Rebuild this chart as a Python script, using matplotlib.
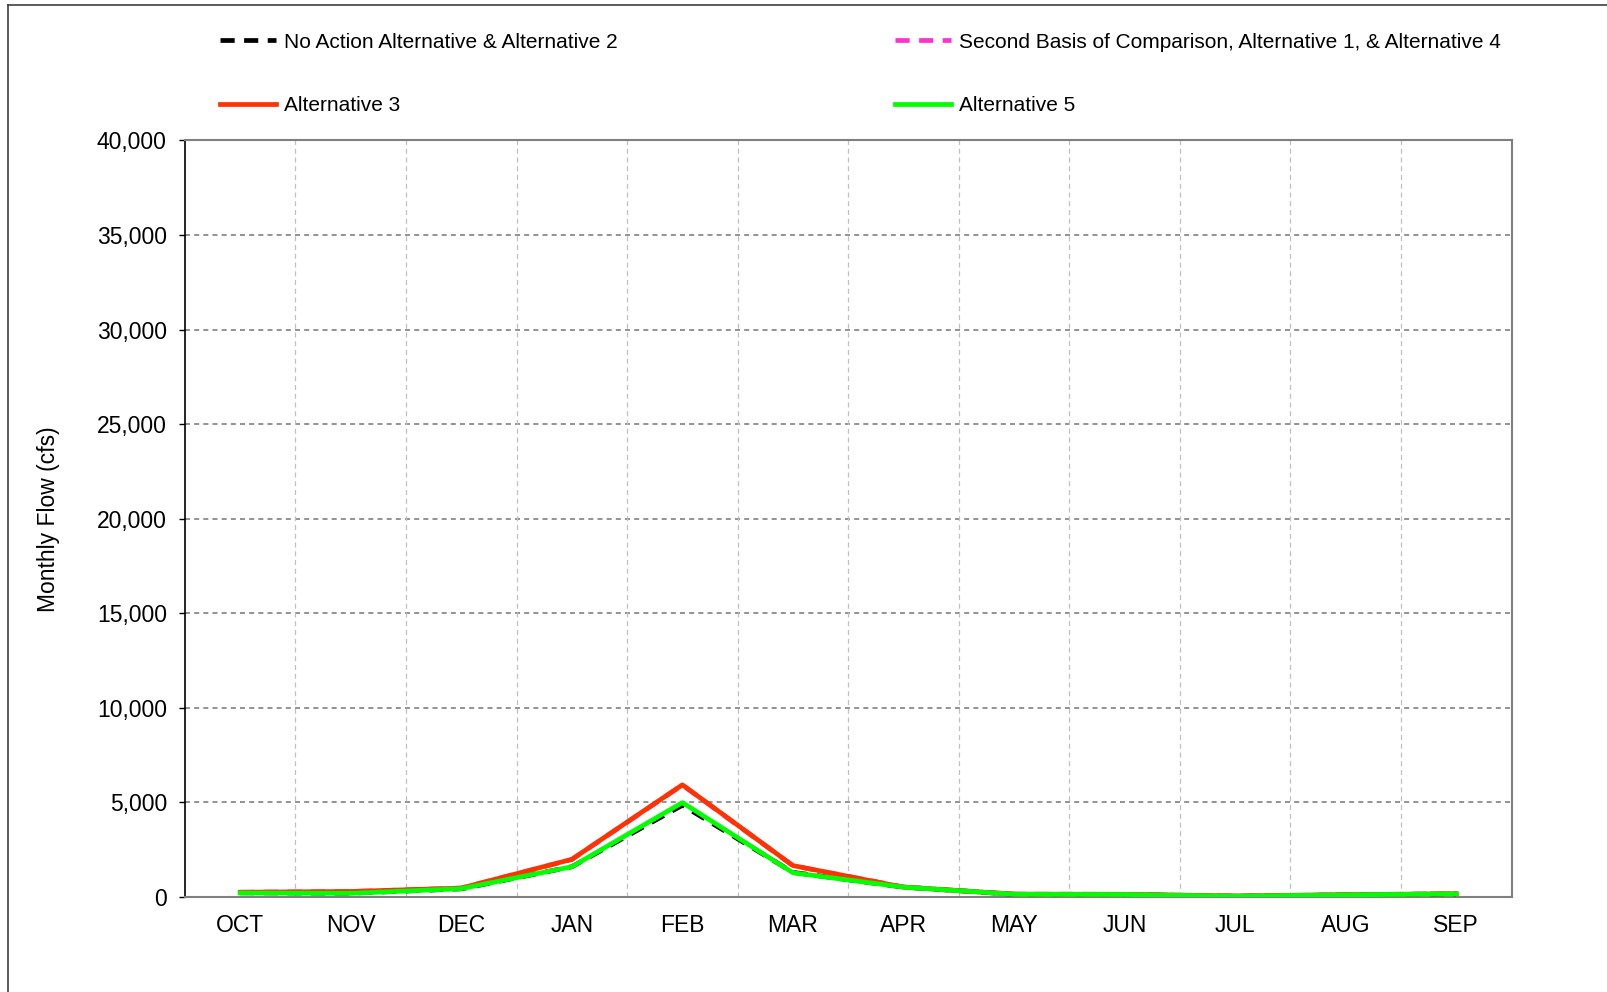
import matplotlib
matplotlib.use("Agg")
import matplotlib.pyplot as plt
from matplotlib.lines import Line2D
from matplotlib.ticker import FuncFormatter
import numpy as np

# Monthly flow (cfs)
months = ["OCT", "NOV", "DEC", "JAN", "FEB", "MAR", "APR", "MAY", "JUN", "JUL", "AUG", "SEP"]
no_action = [220, 200, 430, 1600, 4850, 1300, 520, 140, 130, 40, 110, 160]
second_basis = [250, 285, 470, 1980, 5920, 1650, 530, 150, 140, 50, 120, 170]
alt3 = [250, 290, 470, 1990, 5930, 1660, 520, 150, 140, 50, 120, 170]
alt5 = [210, 190, 440, 1600, 4990, 1280, 520, 140, 130, 40, 110, 160]

yticks = list(range(0, 40001, 5000))

plt.rcParams.update({
    'font.family': ['Liberation Sans', 'DejaVu Sans'],
    'font.size': 16.5,
})

fig = plt.figure(figsize=(16.08, 9.92), dpi=100)
ax = fig.add_axes([0.115, 0.0958, 0.825, 0.7626])

x = np.arange(len(months))
l1, = ax.plot(x, no_action, color='black', lw=3.4, ls=(0, (3, 2)), zorder=3)
l2, = ax.plot(x, second_basis, color='#ff33cc', lw=3.4, ls=(0, (3, 2)), zorder=4)
l3, = ax.plot(x, alt3, color='#ff3300', lw=3.4, zorder=5)
l4, = ax.plot(x, alt5, color='#00ff00', lw=3.4, zorder=6)

ax.set_xlim(-0.5, len(months) - 0.5)
ax.set_ylim(0, 40000)
ax.set_xticks(x)
ax.set_xticklabels(months)
ax.set_yticks(yticks)
ax.yaxis.set_major_formatter(FuncFormatter(lambda v, p: f"{int(v):,}"))
ax.tick_params(axis='x', length=0, pad=12, labelsize=16.5)
ax.tick_params(axis='y', length=4, width=1, direction='out', pad=9, labelsize=16.5)

# gridlines: horizontal at ticks, vertical between months
for v in yticks[1:]:
    ax.axhline(v, color='#808080', lw=1.2, ls=(0, (3, 2.5)), zorder=1)
for b in np.arange(0.5, len(months) - 0.5, 1):
    ax.axvline(b, color='#c0c0c0', lw=0.9, ls=(0, (4, 3)), zorder=1)

for side in ['top', 'right', 'bottom']:
    ax.spines[side].set_color('#808080')
    ax.spines[side].set_linewidth(1.5)
ax.spines['left'].set_color('black')
ax.spines['left'].set_linewidth(1.2)

ax.set_ylabel("Monthly Flow (cfs)", fontsize=16.5)
ax.yaxis.set_label_coords(-0.094, 0.5)

# legend, two columns above the plot
leg_kw = dict(loc='center left', frameon=False, borderpad=0, borderaxespad=0,
              handlelength=2.7, handletextpad=0.35, labelspacing=2.15, fontsize=15)
fig.legend([l1, l3], ["No Action Alternative & Alternative 2", "Alternative 3"],
           bbox_to_anchor=(0.1368, 0.9255), **leg_kw)
fig.legend([l2, l4], ["Second Basis of Comparison, Alternative 1, & Alternative 4", "Alternative 5"],
           bbox_to_anchor=(0.5566, 0.9255), **leg_kw)

# outer frame lines (left and top)
fig.add_artist(Line2D([0.005, 0.005], [0.0, 0.995], transform=fig.transFigure, color='#404040', lw=1.2))
fig.add_artist(Line2D([0.005, 1.0], [0.995, 0.995], transform=fig.transFigure, color='#404040', lw=1.2))

fig.savefig("out.png", dpi=100)
